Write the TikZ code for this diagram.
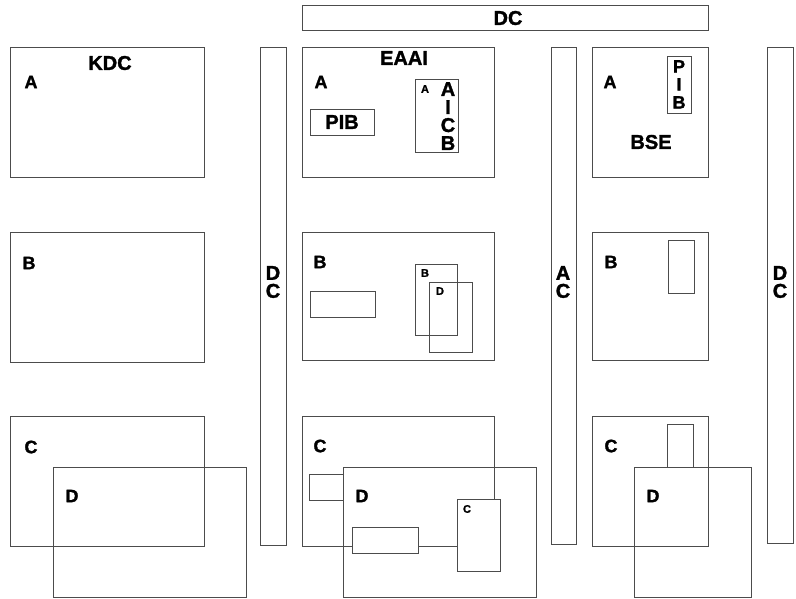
\documentclass[tikz,border=0pt]{standalone}
\usepackage{fontspec}
\setmainfont[BoldFeatures={FakeBold=1.5}]{Liberation Sans}
\usetikzlibrary{positioning}

\begin{document}
\begin{tikzpicture}[x=1pt,y=-1pt,
    box/.style={draw=black!70,line width=0.9pt},
    inbox/.style={draw=black!70,line width=0.9pt,fill=white},
    big/.style={font=\fontsize{20}{18}\selectfont\bfseries,inner sep=0pt,align=center},
    mid/.style={font=\fontsize{18}{18}\selectfont\bfseries,inner sep=0pt,align=center},
    tiny/.style={font=\fontsize{11}{12}\selectfont\bfseries,inner sep=0pt}]
  \useasboundingbox (0,0) rectangle (796,598);
  % top bar and vertical bars
  \draw[box] (302,5) rectangle (708,30);
  \node[big] (dctop) at (508,18) {DC};
  \draw[box] (260,47) rectangle (286,545);
  \node[big] (dcleft) at (273,282) {D\\C};
  \draw[box] (551,47) rectangle (576,544);
  \node[big] (acmid) at (563,282) {A\\C};
  \draw[box] (767,47) rectangle (793,543);
  \node[big] (dcright) at (780,282) {D\\C};
  % left column
  \draw[box] (10,47) rectangle (204,177);
  \node[big] (kdc) at (110,63) {KDC};
  \node[mid] (ka) at (31,82) {A};
  \draw[box] (10,232) rectangle (204,362);
  \node[mid] (kb) at (29,263) {B};
  \draw[box] (10,416) rectangle (204,546);
  \node[mid] (kc) at (31,447) {C};
  \draw[box] (53,467) rectangle (246,597);
  \node[mid] (kd) at (72,496) {D};
  % middle column
  \draw[box] (302,47) rectangle (494,177);
  \node[big] (eaai) at (404,58) {EAAI};
  \node[mid] (ea) at (321,82) {A};
  \draw[box] (310,109) rectangle (374,135);
  \node[big] (pib) at (342,122) {PIB};
  \draw[box] (415,79) rectangle (458,152);
  \node[tiny] (eas) at (425,89) {A};
  \node[big,anchor=north] (aicb) at (448,82) {A\\I\\C\\B};
  \draw[box] (302,232) rectangle (494,360);
  \node[mid] (eb) at (320,262) {B};
  \draw[box] (310,291) rectangle (375,317);
  \draw[box] (415,264) rectangle (457,335);
  \node[tiny] (ebs) at (425,273) {B};
  \draw[box] (429,282) rectangle (472,352);
  \node[tiny] (eds) at (440,291) {D};
  \draw[box] (302,416) rectangle (494,546);
  \node[mid] (ec) at (320,446) {C};
  \draw[box] (343,467) rectangle (536,597);
  \node[mid] (ed) at (362,496) {D};
  \draw[inbox] (309,474) rectangle (343,500);
  \draw[inbox] (352,527) rectangle (418,553);
  \draw[inbox] (457,499) rectangle (500,571);
  \node[tiny] (ecs) at (467,509) {C};
  % right column
  \draw[box] (592,47) rectangle (708,177);
  \node[mid] (ba) at (610,82) {A};
  \node[big] (bse) at (651,142) {BSE};
  \draw[box] (667,56) rectangle (691,113);
  \node[mid,anchor=north] (pibv) at (679,60) {P\\I\\B};
  \draw[box] (592,232) rectangle (708,360);
  \node[mid] (bb) at (611,262) {B};
  \draw[box] (668,240) rectangle (694,293);
  \draw[box] (592,416) rectangle (708,546);
  \node[mid] (bc) at (611,446) {C};
  \draw[box] (667,424) rectangle (693,467);
  \draw[box] (634,467) rectangle (751,597);
  \node[mid] (bd) at (653,496) {D};
\end{tikzpicture}
\end{document}
